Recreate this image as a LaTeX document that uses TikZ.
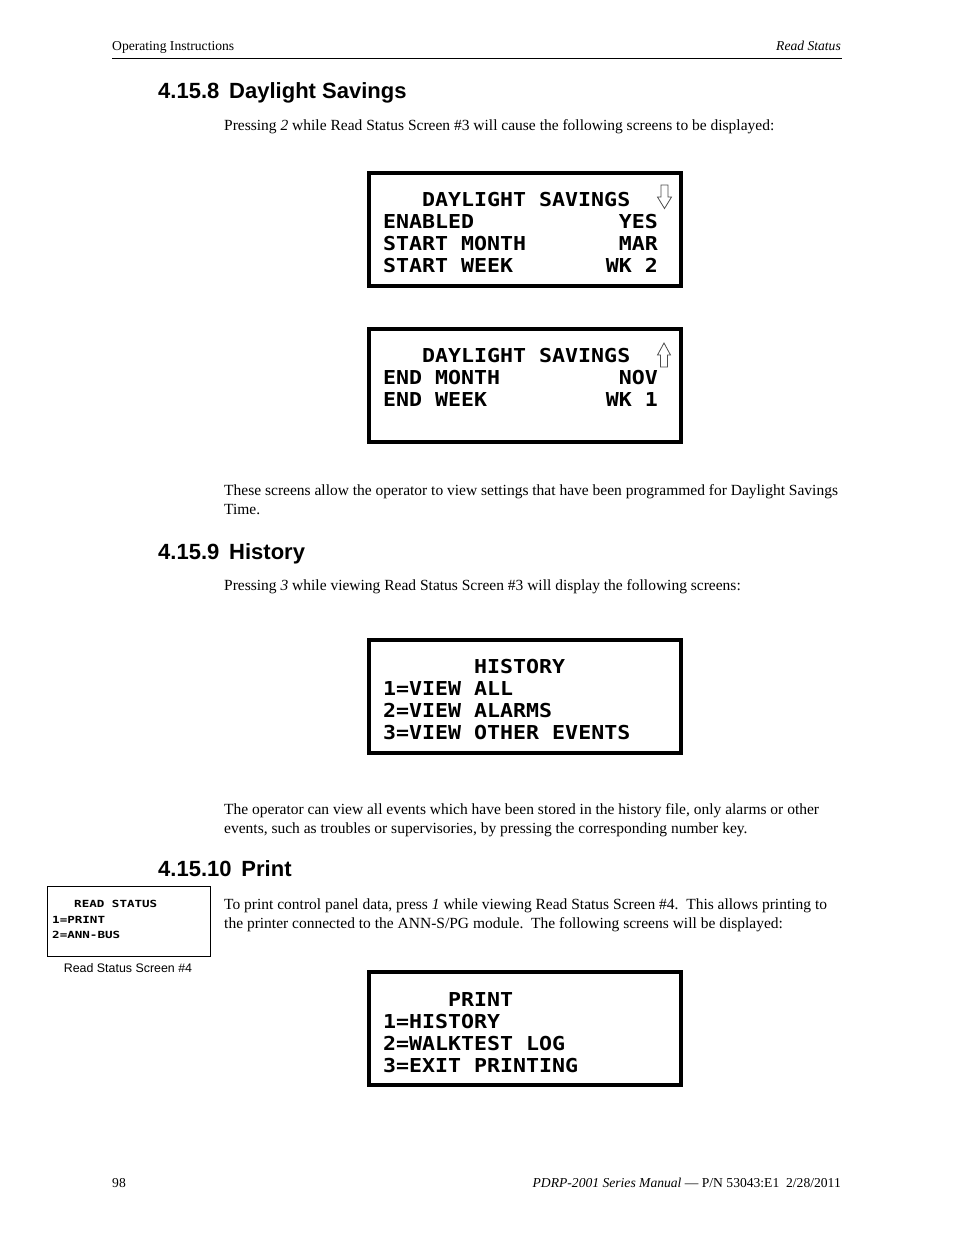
\documentclass[tikz,border=0pt]{standalone}
\usepackage{fontspec}
\usepackage{tikz}
\setmainfont{Liberation Serif}
\setsansfont{Liberation Sans}
\newfontfamily\lcdfont{DejaVu Sans Mono}[FakeStretch=1.125]
\newfontfamily\lcdsmallfont{DejaVu Sans Mono}[FakeStretch=1.28]

\begin{document}
\begin{tikzpicture}[x=1pt, y=-1pt,
    body/.style={anchor=base west, inner sep=0pt, font=\fontsize{15.5}{19}\selectfont},
    small/.style={inner sep=0pt, font=\fontsize{13.6}{16}\selectfont},
    heading/.style={anchor=base west, inner sep=0pt, font=\sffamily\bfseries\fontsize{22}{26}\selectfont},
    screen/.style={line width=4pt},
    lcd/.style={anchor=base west, inner sep=0pt, font=\lcdfont\bfseries\fontsize{19.2}{22}\selectfont},
    lcdR/.style={lcd, anchor=base east},
    lcdsmall/.style={anchor=base west, inner sep=0pt, font=\lcdsmallfont\bfseries\fontsize{9.8}{12}\selectfont},
    updown/.style={draw=black!70, line width=0.8pt, fill=white}]
    \useasboundingbox (0, 0) rectangle (954, 1235);

    % page head
    \node[small, anchor=base west] (headL) at (112, 50) {Operating Instructions};
    \node[small, anchor=base east] (headR) at (841, 50) {\itshape Read Status};
    \draw[line width=1pt] (112, 58) -- (842, 58);

    % 4.15.8
    \node[heading] (secDst) at (158, 98) {4.15.8\hspace{0.45em}Daylight Savings};
    \node[body] (parDst) at (224, 130) {Pressing \textit{2} while Read Status Screen \#3 will cause the following screens to be displayed:};

    \draw[screen] (369, 173) rectangle (681, 286);
    \node[lcd] (dstA1) at (422, 206.5) {DAYLIGHT SAVINGS};
    \draw[updown] (661, 185) -- (668, 185) -- (668, 197) -- (671.5, 197) -- (664.5, 208.5)
        -- (657.5, 197) -- (661, 197) -- cycle;
    \node[lcd] (dstA2) at (383, 228.5) {ENABLED};
    \node[lcdR] (dstA2v) at (658, 228.5) {YES};
    \node[lcd] (dstA3) at (383, 250.5) {START MONTH};
    \node[lcdR] (dstA3v) at (658, 250.5) {MAR};
    \node[lcd] (dstA4) at (383, 272.5) {START WEEK};
    \node[lcdR] (dstA4v) at (658, 272.5) {WK 2};

    \draw[screen] (369, 329) rectangle (681, 442);
    \node[lcd] (dstB1) at (422, 362.5) {DAYLIGHT SAVINGS};
    \draw[updown] (664, 343) -- (670.5, 355) -- (667.5, 355) -- (667.5, 367) -- (660.5, 367)
        -- (660.5, 355) -- (657.5, 355) -- cycle;
    \node[lcd] (dstB2) at (383, 384.5) {END MONTH};
    \node[lcdR] (dstB2v) at (658, 384.5) {NOV};
    \node[lcd] (dstB3) at (383, 406.5) {END WEEK};
    \node[lcdR] (dstB3v) at (658, 406.5) {WK 1};

    \node[body] (parDstA) at (224, 495) {These screens allow the operator to view settings that have been programmed for Daylight Savings};
    \node[body] (parDstB) at (224, 514) {Time.};

    % 4.15.9
    \node[heading] (secHist) at (158, 559) {4.15.9\hspace{0.45em}History};
    \node[body] (parHist) at (224, 590) {Pressing \textit{3} while viewing Read Status Screen \#3 will display the following screens:};

    \draw[screen] (369, 640) rectangle (681, 753);
    \node[lcd] (hist1) at (474, 673.5) {HISTORY};
    \node[lcd] (hist2) at (383, 695.5) {1=VIEW ALL};
    \node[lcd] (hist3) at (383, 717.5) {2=VIEW ALARMS};
    \node[lcd] (hist4) at (383, 739.5) {3=VIEW OTHER EVENTS};

    \node[body] (parHistA) at (224, 814) {The operator can view all events which have been stored in the history file, only alarms or other};
    \node[body] (parHistB) at (224, 833) {events, such as troubles or supervisories, by pressing the corresponding number key.};

    % 4.15.10
    \node[heading] (secPrint) at (158, 876) {4.15.10\hspace{0.45em}Print};
    \node[body] (parPrintA) at (224, 909) {To print control panel data, press \textit{1} while viewing Read Status Screen \#4.\ \ This allows printing to};
    \node[body] (parPrintB) at (224, 928) {the printer connected to the ANN-S/PG module.\ \ The following screens will be displayed:};

    \draw[line width=1pt] (47.5, 886.5) rectangle (210.5, 956.5);
    \node[lcdsmall] (rs1) at (74, 907.5) {READ STATUS};
    \node[lcdsmall] (rs2) at (52, 923.5) {1=PRINT};
    \node[lcdsmall] (rs3) at (52, 938.5) {2=ANN-BUS};
    \node[anchor=base, inner sep=0pt, font=\sffamily\fontsize{12.4}{15}\selectfont] (rsCap) at (128, 972) {Read Status Screen \#4};

    \draw[screen] (369, 972) rectangle (681, 1085);
    \node[lcd] (prt1) at (448, 1006) {PRINT};
    \node[lcd] (prt2) at (383, 1028) {1=HISTORY};
    \node[lcd] (prt3) at (383, 1050) {2=WALKTEST LOG};
    \node[lcd] (prt4) at (383, 1072) {3=EXIT PRINTING};

    % page foot
    \node[small, anchor=base west] (footL) at (112, 1187) {98};
    \node[small, anchor=base east] (footR) at (841, 1187) {\textit{PDRP-2001 Series Manual} --- P/N 53043:E1\ \ 2/28/2011};
\end{tikzpicture}
\end{document}
